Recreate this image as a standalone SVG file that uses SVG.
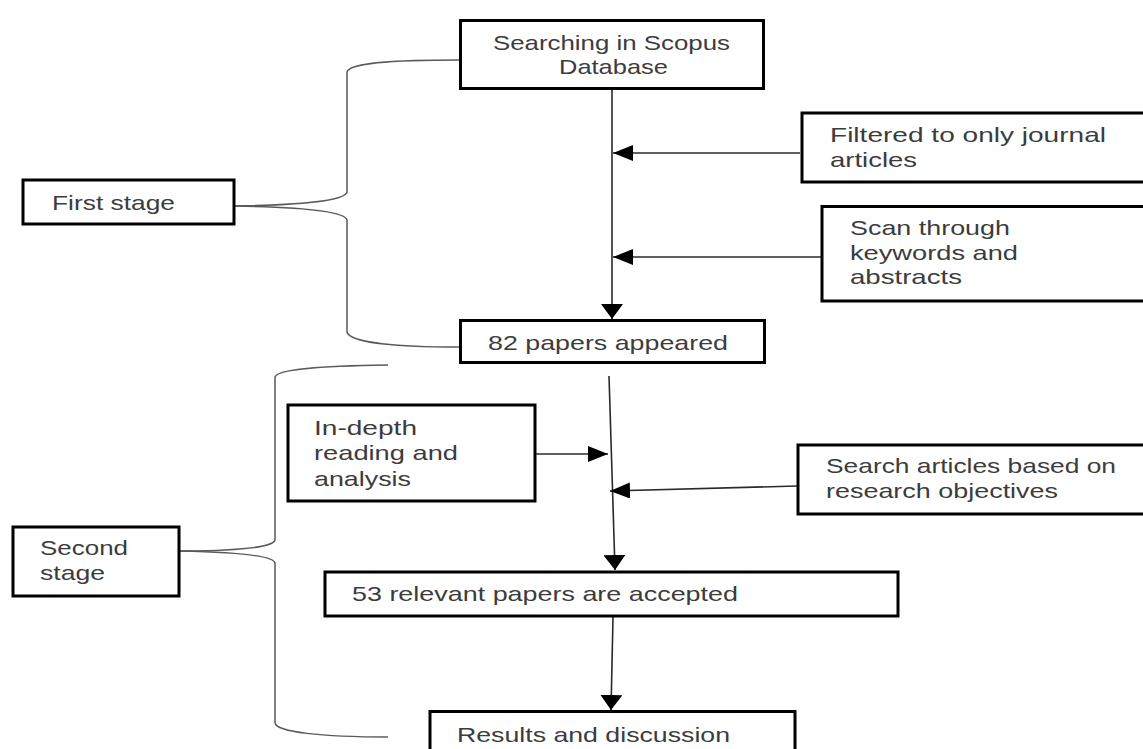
<svg xmlns="http://www.w3.org/2000/svg" width="1143" height="749" viewBox="0 0 1143 749">
<defs>
<style>
.box{fill:#fff;stroke:#000;stroke-width:3}
.t{font-family:"Liberation Sans",Arial,sans-serif;font-size:21px;fill:#3c3c3c}
.c{fill:none;stroke:#2a2a2a;stroke-width:1.6}
.br{fill:none;stroke:#5a5a5a;stroke-width:1.5}
</style>
<marker id="ah" markerUnits="userSpaceOnUse" markerWidth="20" markerHeight="16" refX="20" refY="8" orient="auto">
<path d="M0,0 L20,8 L0,16 Z" fill="#000"/>
</marker>
<marker id="av" markerUnits="userSpaceOnUse" markerWidth="15" markerHeight="22" refX="15" refY="11" orient="auto">
<path d="M0,0 L15,11 L0,22 Z" fill="#000"/>
</marker>
</defs>
<rect width="1143" height="749" fill="#fff"/>

<g id="connectors">
<path class="c" d="M612,90 L612,319" marker-end="url(#av)"/>
<path class="c" d="M800,153 L613,153" marker-end="url(#ah)"/>
<path class="c" d="M821,257 L613,257" marker-end="url(#ah)"/>
<path class="c" d="M609,376 L615,570" marker-end="url(#av)"/>
<path class="c" d="M536,454 L608,454" marker-end="url(#ah)"/>
<path class="c" d="M797,486 L610,491" marker-end="url(#ah)"/>
<path class="c" d="M613,617 L611,710" marker-end="url(#av)"/>
<path class="br" d="M459,60 C400,60 350,62 347,72 L347,192 C345,201 300,205 234,206"/>
<path class="br" d="M234,206 C300,207 345,211 347,220 L347,332 C350,343 400,347 459,347"/>
<path class="br" d="M388,365 C320,366 277,369 275,377 L275,540 C273,548 230,551 180,551"/>
<path class="br" d="M180,551 C230,552 273,555 275,563 L275,723 C277,732 320,737 388,737"/>
</g>

<g id="searching">
<rect class="box" x="460.5" y="20.5" width="303" height="68"/>
<text class="t" x="493" y="50" textLength="237" lengthAdjust="spacingAndGlyphs">Searching in Scopus</text>
<text class="t" x="559" y="74" textLength="109" lengthAdjust="spacingAndGlyphs">Database</text>
</g>

<g id="filtered">
<rect class="box" x="802" y="113" width="360" height="69"/>
<text class="t" x="830" y="142" textLength="276" lengthAdjust="spacingAndGlyphs">Filtered to only journal</text>
<text class="t" x="830" y="167" textLength="87" lengthAdjust="spacingAndGlyphs">articles</text>
</g>

<g id="scan">
<rect class="box" x="822" y="206.5" width="340" height="94.5"/>
<text class="t" x="850" y="235" textLength="160" lengthAdjust="spacingAndGlyphs">Scan through</text>
<text class="t" x="850" y="260" textLength="168" lengthAdjust="spacingAndGlyphs">keywords and</text>
<text class="t" x="850" y="284" textLength="112" lengthAdjust="spacingAndGlyphs">abstracts</text>
</g>

<g id="papers82">
<rect class="box" x="460.5" y="320.5" width="304" height="42"/>
<text class="t" x="488" y="350" textLength="240" lengthAdjust="spacingAndGlyphs">82 papers appeared</text>
</g>

<g id="first-stage">
<rect class="box" x="23" y="180" width="211" height="44"/>
<text class="t" x="52" y="210" textLength="123" lengthAdjust="spacingAndGlyphs">First stage</text>
</g>

<g id="second-stage">
<rect class="box" x="13" y="527" width="166" height="69"/>
<text class="t" x="40" y="555" textLength="88" lengthAdjust="spacingAndGlyphs">Second</text>
<text class="t" x="40" y="580" textLength="65" lengthAdjust="spacingAndGlyphs">stage</text>
</g>

<g id="in-depth">
<rect class="box" x="288" y="405" width="247" height="96"/>
<text class="t" x="314" y="435" textLength="103" lengthAdjust="spacingAndGlyphs">In-depth</text>
<text class="t" x="314" y="460" textLength="144" lengthAdjust="spacingAndGlyphs">reading and</text>
<text class="t" x="314" y="486" textLength="97" lengthAdjust="spacingAndGlyphs">analysis</text>
</g>

<g id="search-articles">
<rect class="box" x="798" y="445" width="360" height="69"/>
<text class="t" x="826" y="473" textLength="290" lengthAdjust="spacingAndGlyphs">Search articles based on</text>
<text class="t" x="826" y="498" textLength="232" lengthAdjust="spacingAndGlyphs">research objectives</text>
</g>

<g id="accepted">
<rect class="box" x="325" y="572" width="573" height="44"/>
<text class="t" x="352" y="601" textLength="386" lengthAdjust="spacingAndGlyphs">53 relevant papers are accepted</text>
</g>

<g id="results">
<rect class="box" x="430" y="711.5" width="365" height="60"/>
<text class="t" x="457" y="742" textLength="273" lengthAdjust="spacingAndGlyphs">Results and discussion</text>
</g>
</svg>
